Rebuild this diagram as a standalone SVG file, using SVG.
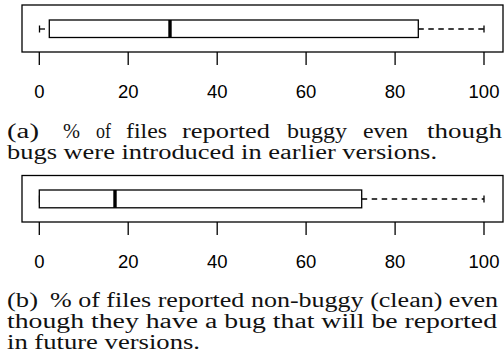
<svg xmlns="http://www.w3.org/2000/svg" width="504" height="360" viewBox="0 0 504 360">
<style>
.frame{fill:none;stroke:#000;stroke-width:1.3}
.box{fill:#fff;stroke:#000;stroke-width:1.3}
.med{stroke:#000;stroke-width:3.4}
.wh{stroke:#000;stroke-width:1.3;stroke-dasharray:5.5 4.5;fill:none}
.cap{stroke:#000;stroke-width:1.3}
.tick{stroke:#000;stroke-width:1.3}
.tl{font-family:"Liberation Sans",Arial,sans-serif;font-size:18.5px;fill:#000;text-anchor:middle}
.cap-t{font-family:"Liberation Serif","Times New Roman",serif;font-size:20px;fill:#111}
</style>
<rect width="504" height="360" fill="#fff"/>

<g id="plot-a">
  <rect class="frame" x="22" y="5" width="481" height="47"/>
  <line class="wh" x1="39.5" y1="29" x2="49.3" y2="29"/>
  <line class="cap" x1="39.5" y1="25.5" x2="39.5" y2="32.5"/>
  <line class="wh" x1="418.3" y1="29" x2="484" y2="29"/>
  <line class="cap" x1="484" y1="25.5" x2="484" y2="32.5"/>
  <rect class="box" x="49.3" y="20" width="369" height="17.5"/>
  <line class="med" x1="170" y1="20" x2="170" y2="37.5"/>
  <g class="axis">
    <line class="tick" x1="39.3" y1="52" x2="39.3" y2="65"/>
    <line class="tick" x1="128.2" y1="52" x2="128.2" y2="65"/>
    <line class="tick" x1="217.2" y1="52" x2="217.2" y2="65"/>
    <line class="tick" x1="306.1" y1="52" x2="306.1" y2="65"/>
    <line class="tick" x1="395.1" y1="52" x2="395.1" y2="65"/>
    <line class="tick" x1="484" y1="52" x2="484" y2="65"/>
    <text class="tl" x="39.3" y="98">0</text>
    <text class="tl" x="128.2" y="98">20</text>
    <text class="tl" x="217.2" y="98">40</text>
    <text class="tl" x="306.1" y="98">60</text>
    <text class="tl" x="395.1" y="98">80</text>
    <text class="tl" x="484" y="98">100</text>
  </g>
</g>

<g id="caption-a">
  <text class="cap-t" x="7" y="137.5" textLength="32" lengthAdjust="spacingAndGlyphs">(a)</text>
  <text class="cap-t" x="63" y="137.5" textLength="17" lengthAdjust="spacingAndGlyphs">%</text>
  <text class="cap-t" x="96" y="137.5" textLength="15" lengthAdjust="spacingAndGlyphs">of</text>
  <text class="cap-t" x="126" y="137.5" textLength="41" lengthAdjust="spacingAndGlyphs">files</text>
  <text class="cap-t" x="182" y="137.5" textLength="88" lengthAdjust="spacingAndGlyphs">reported</text>
  <text class="cap-t" x="287" y="137.5" textLength="60" lengthAdjust="spacingAndGlyphs">buggy</text>
  <text class="cap-t" x="363" y="137.5" textLength="45" lengthAdjust="spacingAndGlyphs">even</text>
  <text class="cap-t" x="427" y="137.5" textLength="75" lengthAdjust="spacingAndGlyphs">though</text>
  <text class="cap-t" x="7" y="158.5" textLength="430" lengthAdjust="spacingAndGlyphs">bugs were introduced in earlier versions.</text>
</g>

<g id="plot-b">
  <rect class="frame" x="22" y="175.5" width="481" height="46.5"/>
  <line class="cap" x1="39.5" y1="195.5" x2="39.5" y2="202.5"/>
  <line class="wh" x1="361.7" y1="199" x2="484" y2="199"/>
  <line class="cap" x1="484" y1="195.5" x2="484" y2="202.5"/>
  <rect class="box" x="39.3" y="190" width="322.4" height="17.8"/>
  <line class="med" x1="115" y1="190" x2="115" y2="207.8"/>
  <g class="axis">
    <line class="tick" x1="39.3" y1="222" x2="39.3" y2="235"/>
    <line class="tick" x1="128.2" y1="222" x2="128.2" y2="235"/>
    <line class="tick" x1="217.2" y1="222" x2="217.2" y2="235"/>
    <line class="tick" x1="306.1" y1="222" x2="306.1" y2="235"/>
    <line class="tick" x1="395.1" y1="222" x2="395.1" y2="235"/>
    <line class="tick" x1="484" y1="222" x2="484" y2="235"/>
    <text class="tl" x="39.3" y="268">0</text>
    <text class="tl" x="128.2" y="268">20</text>
    <text class="tl" x="217.2" y="268">40</text>
    <text class="tl" x="306.1" y="268">60</text>
    <text class="tl" x="395.1" y="268">80</text>
    <text class="tl" x="484" y="268">100</text>
  </g>
</g>

<g id="caption-b">
  <text class="cap-t" x="7" y="307" textLength="31" lengthAdjust="spacingAndGlyphs">(b)</text>
  <text class="cap-t" x="50" y="307" textLength="448" lengthAdjust="spacingAndGlyphs">% of files reported non-buggy (clean) even</text>
  <text class="cap-t" x="7" y="328" textLength="490" lengthAdjust="spacingAndGlyphs">though they have a bug that will be reported</text>
  <text class="cap-t" x="7" y="349" textLength="193" lengthAdjust="spacingAndGlyphs">in future versions.</text>
</g>
</svg>
